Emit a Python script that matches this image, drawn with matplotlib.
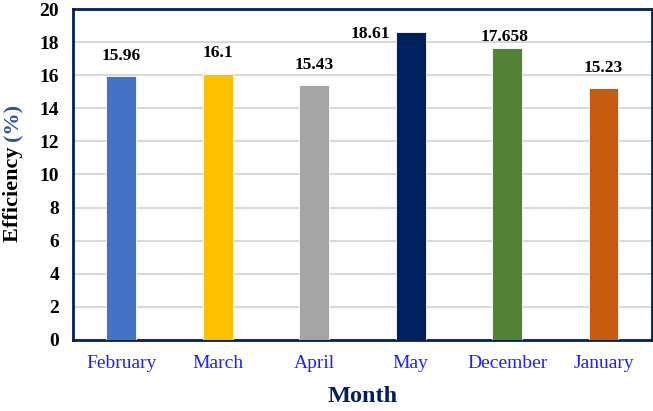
import matplotlib.pyplot as plt
import numpy as np

plt.rcParams['font.family'] = ['Liberation Serif', 'DejaVu Serif']

months = ['February', 'March', 'April', 'May', 'December', 'January']
efficiency = [15.96, 16.1, 15.43, 18.61, 17.658, 15.23]
labels = ['15.96', '16.1', '15.43', '18.61', '17.658', '15.23']
colors = ['#4472C4', '#FFC000', '#A5A5A5', '#002060', '#548235', '#C55A11']

# label offsets in pixels (dx, dy) from bar top
offsets = [(0, 20), (0, 21), (0, 20), (-40, -2), (-2, 11), (0, 20)]

navy = '#002060'

fig = plt.figure(figsize=(6.53, 4.11), dpi=100)
ax = fig.add_axes([0.112, 0.173, 0.886, 0.805])

x = np.arange(len(months))
ax.bar(x, efficiency, width=0.31, color=colors, edgecolor='white',
       linewidth=0.6, zorder=3)

for i, (v, lab) in enumerate(zip(efficiency, labels)):
    dx, dy = offsets[i]
    ax.annotate(lab, (x[i], v), xytext=(dx, dy), textcoords='offset pixels',
                ha='center', va='center', fontsize=12.5, fontweight='bold',
                color='black')

ax.set_xlim(-0.5, 5.5)
ax.set_ylim(0, 20)
ax.set_yticks(np.arange(0, 21, 2))
ax.set_xticks(x)
ax.set_xticklabels(months, fontsize=14, color='#1F1FFF')
for t in ax.get_yticklabels():
    t.set_fontweight('bold')
    t.set_fontsize(14)
ax.tick_params(axis='both', length=0)
ax.tick_params(axis='x', pad=11)
ax.tick_params(axis='y', pad=10)

ax.yaxis.grid(True, color='#D9D9D9', linewidth=1.5, zorder=0)
ax.set_axisbelow(True)
for s in ax.spines.values():
    s.set_color(navy)
    s.set_linewidth(2)

fig.text(0.555, 0.035, 'Month', ha='center', va='center', fontsize=17.5,
         fontweight='bold', color=navy)

# y label in two colours
fig.canvas.draw()
r = fig.canvas.get_renderer()
t1 = fig.text(0.02, 0.41, 'Efficiency ', rotation=90, ha='center',
              va='bottom', fontsize=16, fontweight='bold', color='black')
bb = t1.get_window_extent(renderer=r)
top = fig.transFigure.inverted().transform((0, bb.y1))[1]
fig.text(0.02, top, '(%)', rotation=90, ha='center', va='bottom',
         fontsize=16, fontweight='bold', color='#2F5597')

fig.savefig('out.png', dpi=100)
